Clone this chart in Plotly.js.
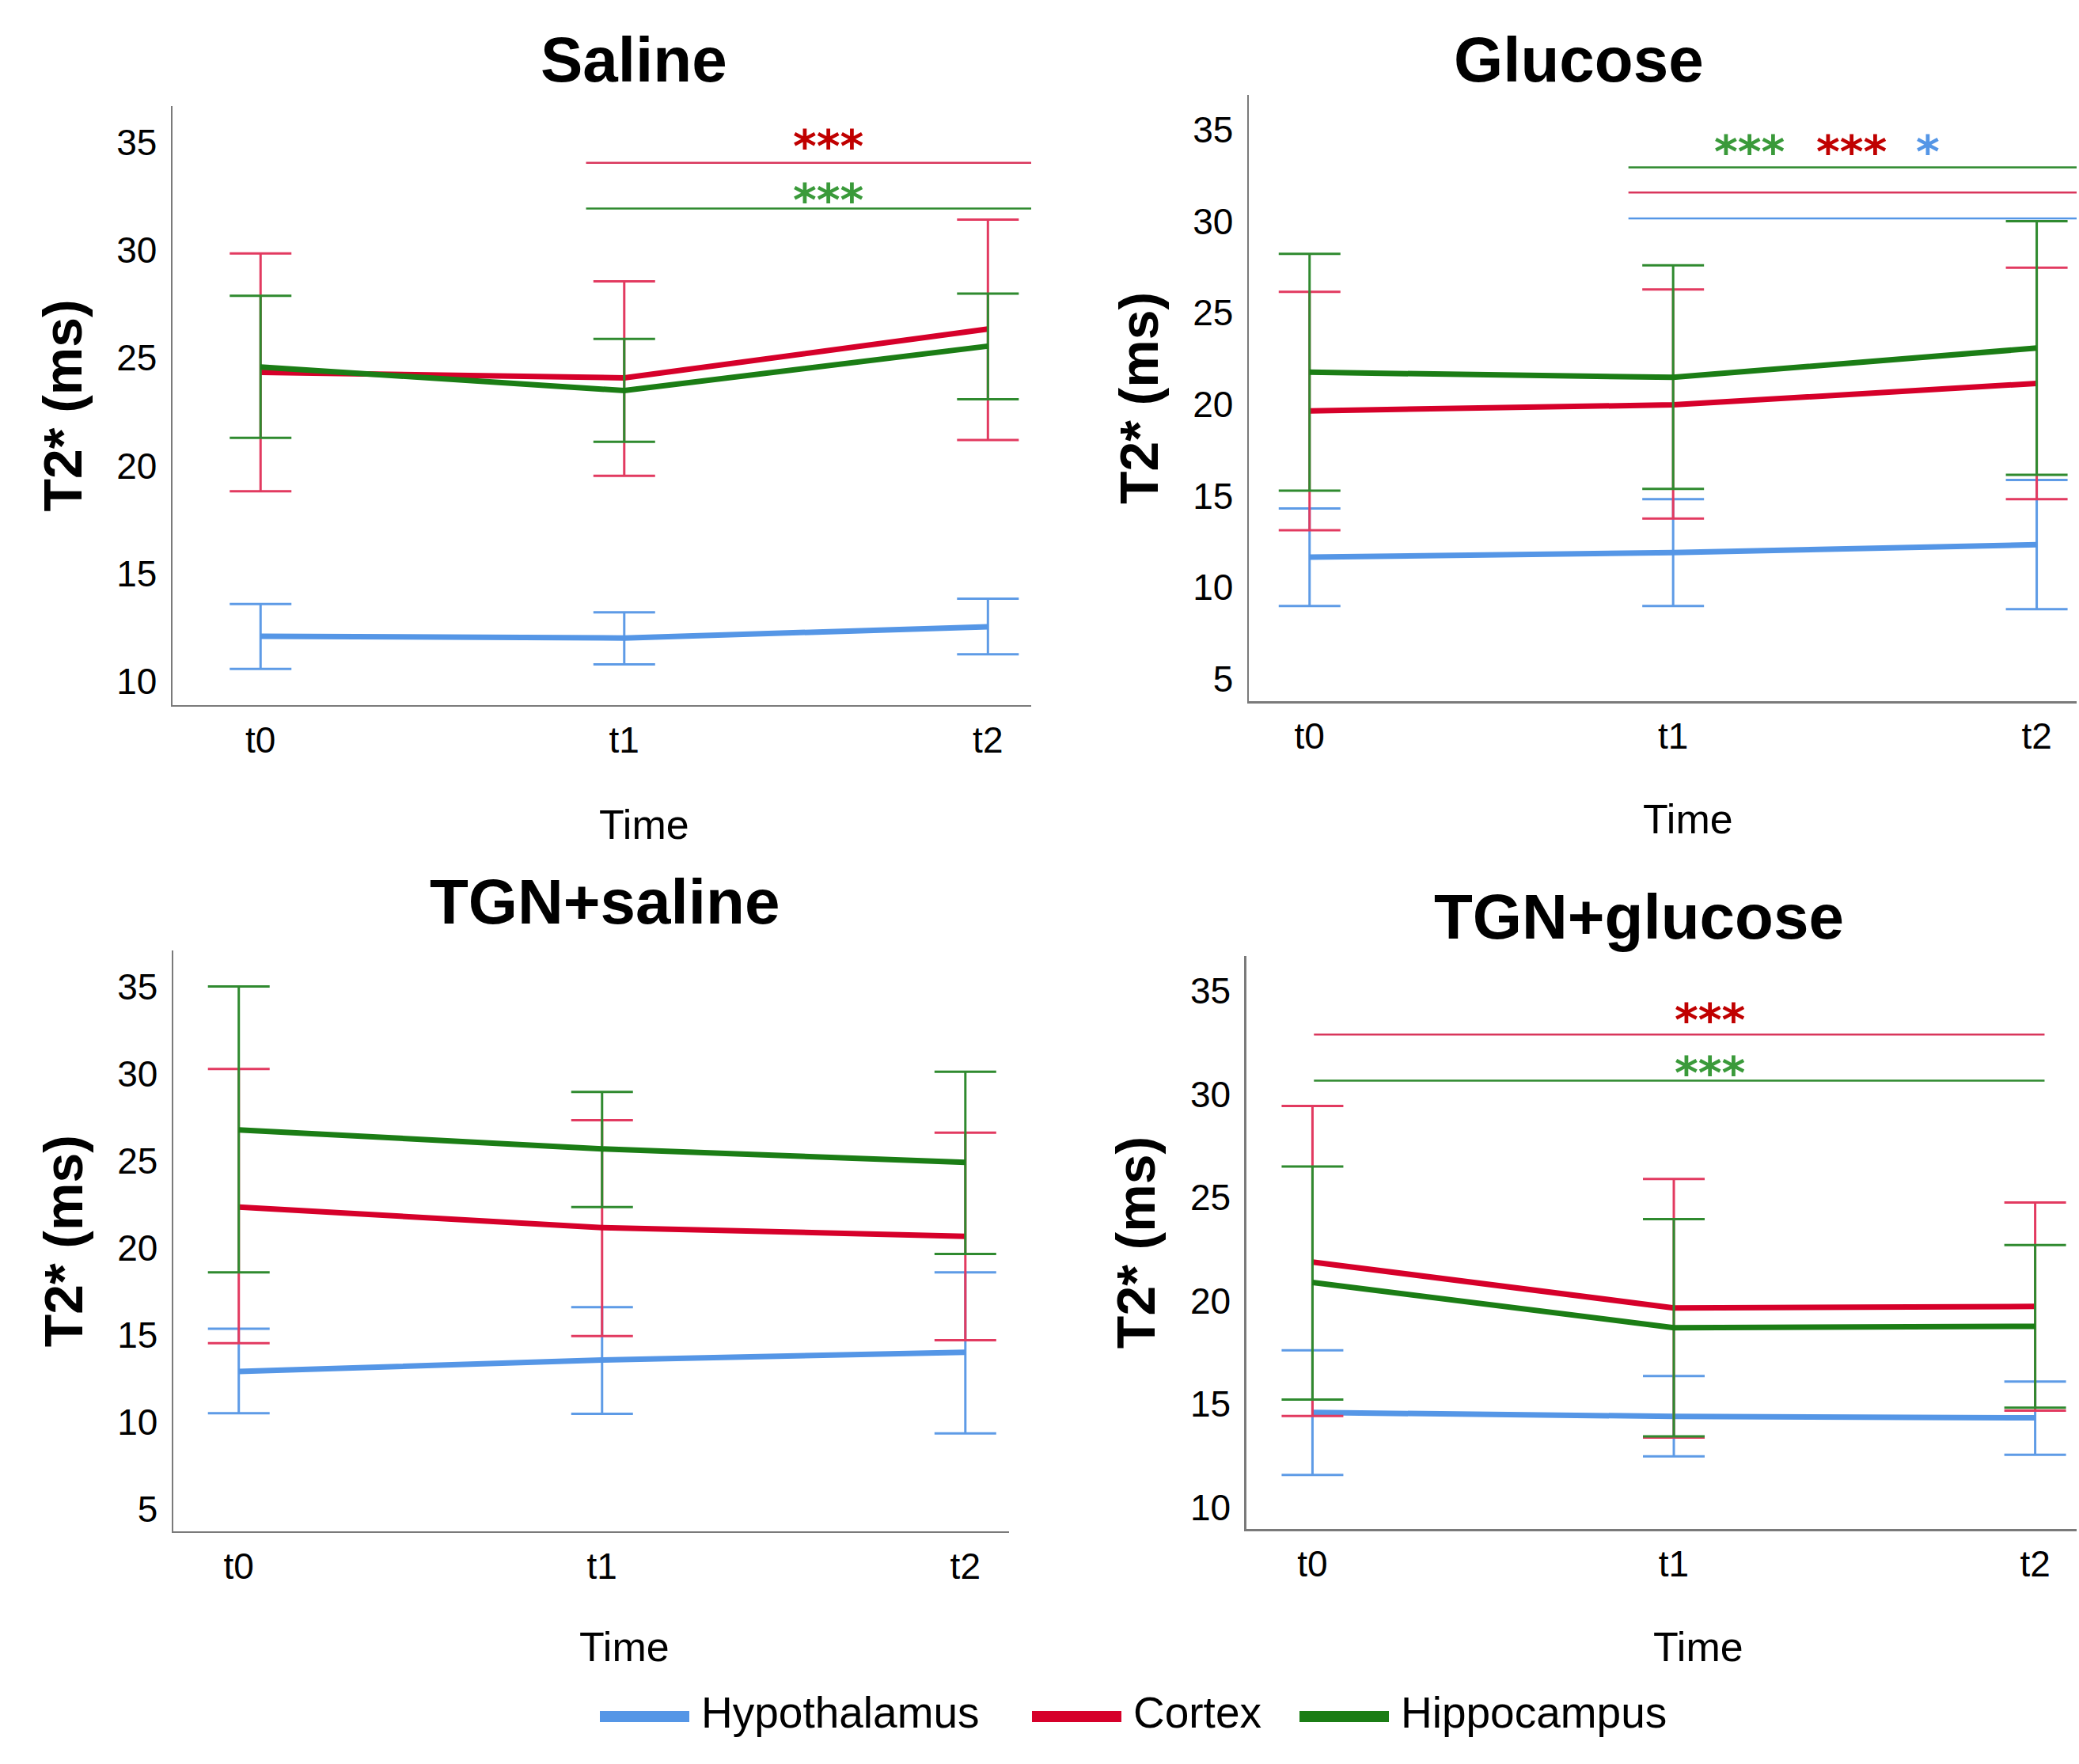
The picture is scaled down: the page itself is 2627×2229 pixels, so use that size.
<!DOCTYPE html>
<html>
<head>
<meta charset="utf-8">
<script src="https://cdn.plot.ly/plotly-3.0.1.min.js"></script>
<style>html,body{margin:0;padding:0;background:#fff;}#chart{width:2627px;height:2229px;}</style>
</head>
<body>
<div id="chart"></div>
<script>
// ---------- DATA ----------
const timeLabels = ['t0', 't1', 't2'];
const regionNames = ['Hypothalamus', 'Cortex', 'Hippocampus'];
const panelTitles = ['Saline', 'Glucose', 'TGN+saline', 'TGN+glucose'];

// Saline
const salineHypoMean = [12.10, 12.02, 12.54];
const salineHypoLow = [10.59, 10.80, 11.26];
const salineHypoHigh = [13.59, 13.21, 13.84];
const salineCortexMean = [24.33, 24.08, 26.34];
const salineCortexLow = [18.82, 19.54, 21.20];
const salineCortexHigh = [29.85, 28.55, 31.41];
const salineHippoMean = [24.58, 23.49, 25.55];
const salineHippoLow = [21.30, 21.11, 23.09];
const salineHippoHigh = [27.88, 25.88, 27.98];

// Glucose
const glucoseHypoMean = [11.65, 11.90, 12.33];
const glucoseHypoLow = [8.98, 8.98, 8.81];
const glucoseHypoHigh = [14.31, 14.82, 15.86];
const glucoseCortexMean = [19.64, 19.97, 21.14];
const glucoseCortexLow = [13.12, 13.76, 14.82];
const glucoseCortexHigh = [26.14, 26.27, 27.46];
const glucoseHippoMean = [21.75, 21.47, 23.07];
const glucoseHippoLow = [15.28, 15.38, 16.14];
const glucoseHippoHigh = [28.22, 27.59, 30.00];

// TGN+saline
const tgnSalineHypoMean = [12.89, 13.55, 13.99];
const tgnSalineHypoLow = [10.49, 10.46, 9.33];
const tgnSalineHypoHigh = [15.34, 16.58, 18.59];
const tgnSalineCortexMean = [22.34, 21.16, 20.66];
const tgnSalineCortexLow = [14.51, 14.93, 14.68];
const tgnSalineCortexHigh = [30.28, 27.33, 26.62];
const tgnSalineHippoMean = [26.78, 25.68, 24.91];
const tgnSalineHippoLow = [18.59, 22.34, 19.64];
const tgnSalineHippoHigh = [35.02, 28.96, 30.12];

// TGN+glucose
const tgnGlucoseHypoMean = [14.60, 14.41, 14.34];
const tgnGlucoseHypoLow = [11.58, 12.48, 12.55];
const tgnGlucoseHypoHigh = [17.61, 16.36, 16.10];
const tgnGlucoseCortexMean = [21.88, 19.66, 19.73];
const tgnGlucoseCortexLow = [14.43, 13.39, 14.69];
const tgnGlucoseCortexHigh = [29.43, 25.90, 24.76];
const tgnGlucoseHippoMean = [20.89, 18.70, 18.77];
const tgnGlucoseHippoLow = [15.22, 13.44, 14.83];
const tgnGlucoseHippoHigh = [26.50, 23.95, 22.70];

// Significance bars: level (y value), region index, star label, star position
const salineSigLevels = [34.05, 31.93];
const salineSigRegions = [1, 2];
const salineSigLabels = ['***', '***'];
const salineStarX = [1.56, 1.56];
const salineStarY = [35.08, 32.57];
const glucoseSigLevels = [32.94, 31.57, 30.15];
const glucoseSigRegions = [2, 1, 0];
const glucoseSigLabels = ['***', '***', '*'];
const glucoseStarX = [1.21, 1.49, 1.70];
const glucoseStarY = [34.1, 34.1, 34.1];
const tgnGlucoseSigLevels = [32.89, 30.66];
const tgnGlucoseSigRegions = [1, 2];
const tgnGlucoseSigLabels = ['***', '***'];
const tgnGlucoseStarX = [1.10, 1.10];
const tgnGlucoseStarY = [33.85, 31.27];

// ---------- STYLE ----------
const lineColors = ['#5596E6', '#D6002A', '#1B7D15'];
const errColors = ['#5E9BE6', '#E23A60', '#2F8A2F'];
const sigColors = ['#5596E6', '#D9365C', '#2F8A2F'];
const starColors = ['#5596E6', '#C00000', '#3A9A3A'];
const FONT = 'Liberation Sans, Arial, sans-serif';
const STAR_FONT = 'DejaVu Sans, Liberation Sans, sans-serif';

const panels = [
  {means: [salineHypoMean, salineCortexMean, salineHippoMean],
   lows: [salineHypoLow, salineCortexLow, salineHippoLow],
   highs: [salineHypoHigh, salineCortexHigh, salineHippoHigh],
   xdom: [0.0830, 0.4960], ydom: [0.6003, 0.9399],
   xr: [-0.242, 2.119], yr: [8.91, 36.68],
   sig: {levels: salineSigLevels, regions: salineSigRegions, labels: salineSigLabels,
         x0: 0.895, x1: 2.13, sx: salineStarX, sy: salineStarY}},
  {means: [glucoseHypoMean, glucoseCortexMean, glucoseHippoMean],
   lows: [glucoseHypoLow, glucoseCortexLow, glucoseHippoLow],
   highs: [glucoseHypoHigh, glucoseCortexHigh, glucoseHippoHigh],
   xdom: [0.6007, 0.9989], ydom: [0.6025, 0.9462],
   xr: [-0.167, 2.11], yr: [3.78, 36.9],
   sig: {levels: glucoseSigLevels, regions: glucoseSigRegions, labels: glucoseSigLabels,
         x0: 0.877, x1: 2.13, sx: glucoseStarX, sy: glucoseStarY}},
  {means: [tgnSalineHypoMean, tgnSalineCortexMean, tgnSalineHippoMean],
   lows: [tgnSalineHypoLow, tgnSalineCortexLow, tgnSalineHippoLow],
   highs: [tgnSalineHypoHigh, tgnSalineCortexHigh, tgnSalineHippoHigh],
   xdom: [0.0834, 0.4853], ydom: [0.1319, 0.4610],
   xr: [-0.18, 2.12], yr: [3.70, 37.07], sig: null},
  {means: [tgnGlucoseHypoMean, tgnGlucoseCortexMean, tgnGlucoseHippoMean],
   lows: [tgnGlucoseHypoLow, tgnGlucoseCortexLow, tgnGlucoseHippoLow],
   highs: [tgnGlucoseHypoHigh, tgnGlucoseCortexHigh, tgnGlucoseHippoHigh],
   xdom: [0.5995, 0.9989], ydom: [0.1332, 0.4581],
   xr: [-0.183, 2.115], yr: [8.96, 36.69],
   sig: {levels: tgnGlucoseSigLevels, regions: tgnGlucoseSigRegions, labels: tgnGlucoseSigLabels,
         x0: 0.004, x1: 2.026, sx: tgnGlucoseStarX, sy: tgnGlucoseStarY}}
];
const W = 2627, H = 2229;
const titlePos = [[801, 75], [1995, 75], [764, 1139], [2071, 1159]];
const timePos = [[814, 1042], [2133, 1035], [789, 2081], [2146, 2081]];

const traces = [];
const layout = {
  width: W, height: H,
  margin: {l: 0, r: 0, t: 0, b: 0},
  paper_bgcolor: '#fff', plot_bgcolor: '#fff',
  showlegend: false,
  font: {family: FONT, color: '#000'},
  shapes: [], annotations: []
};

panels.forEach((p, i) => {
  const n = i === 0 ? '' : String(i + 1);
  const xa = 'x' + n, ya = 'y' + n;
  for (let r = 0; r < 3; r++) {
    const m = p.means[r];
    traces.push({
      type: 'scatter', mode: 'lines', name: regionNames[r],
      x: timeLabels, y: m, xaxis: xa, yaxis: ya,
      line: {color: lineColors[r], width: 7},
      error_y: {type: 'data', symmetric: false,
        array: p.highs[r].map((h, k) => h - m[k]),
        arrayminus: p.lows[r].map((l, k) => m[k] - l),
        color: errColors[r], thickness: 3, width: 39},
      hoverinfo: 'x+y+name'
    });
  }
  layout['xaxis' + n] = {
    domain: p.xdom, anchor: ya, type: 'category', range: p.xr,
    showgrid: false, zeroline: false, showline: true, linecolor: '#7a7a7a', linewidth: 2.5,
    ticks: '', tickfont: {size: 46, family: FONT, color: '#000'}, ticklabelstandoff: 2
  };
  layout['yaxis' + n] = {
    domain: p.ydom, anchor: xa, range: p.yr, dtick: 5, tick0: 0,
    showgrid: false, zeroline: false, showline: true, linecolor: '#7a7a7a', linewidth: 2.5,
    ticks: '', tickfont: {size: 46, family: FONT, color: '#000'}, ticklabelstandoff: 8,
    title: {text: '<b>T2* (ms)</b>', font: {size: 68, family: FONT, color: '#000'}, standoff: 22}
  };
  layout.annotations.push({
    xref: 'paper', yref: 'paper', x: titlePos[i][0] / W, y: 1 - titlePos[i][1] / H,
    xanchor: 'center', yanchor: 'middle', showarrow: false,
    text: '<b>' + panelTitles[i] + '</b>', font: {size: 80, family: FONT, color: '#000'}
  });
  layout.annotations.push({
    xref: 'paper', yref: 'paper', x: timePos[i][0] / W, y: 1 - timePos[i][1] / H,
    xanchor: 'center', yanchor: 'middle', showarrow: false,
    text: 'Time', font: {size: 52, family: FONT, color: '#000'}
  });
  if (p.sig) {
    p.sig.levels.forEach((lv, k) => {
      const reg = p.sig.regions[k];
      layout.shapes.push({type: 'line', xref: xa, yref: ya, x0: p.sig.x0, x1: p.sig.x1,
        y0: lv, y1: lv, line: {color: sigColors[reg], width: 2.5}});
      layout.annotations.push({xref: xa, yref: ya, x: p.sig.sx[k], y: p.sig.sy[k],
        xanchor: 'center', yanchor: 'middle', showarrow: false, yshift: -7,
        text: '<b>' + p.sig.labels[k] + '</b>',
        font: {size: 57, family: STAR_FONT, color: starColors[reg]}});
    });
  }
});

// Legend drawn below the panels
const legendLineX = [[758, 871], [1304, 1417], [1642, 1755]];
const legendY = 1 - 2169 / H;
regionNames.forEach((nm, r) => {
  layout.shapes.push({type: 'line', xref: 'paper', yref: 'paper',
    x0: legendLineX[r][0] / W, x1: legendLineX[r][1] / W, y0: legendY, y1: legendY,
    line: {color: lineColors[r], width: 14}});
  layout.annotations.push({xref: 'paper', yref: 'paper', x: (legendLineX[r][1] + 13) / W,
    y: 1 - 2164 / H, xanchor: 'left', yanchor: 'middle', showarrow: false,
    text: nm, font: {size: 55, family: FONT, color: '#000'}});
});

Plotly.newPlot('chart', traces, layout, {displayModeBar: false, staticPlot: true});
</script>
</body>
</html>
